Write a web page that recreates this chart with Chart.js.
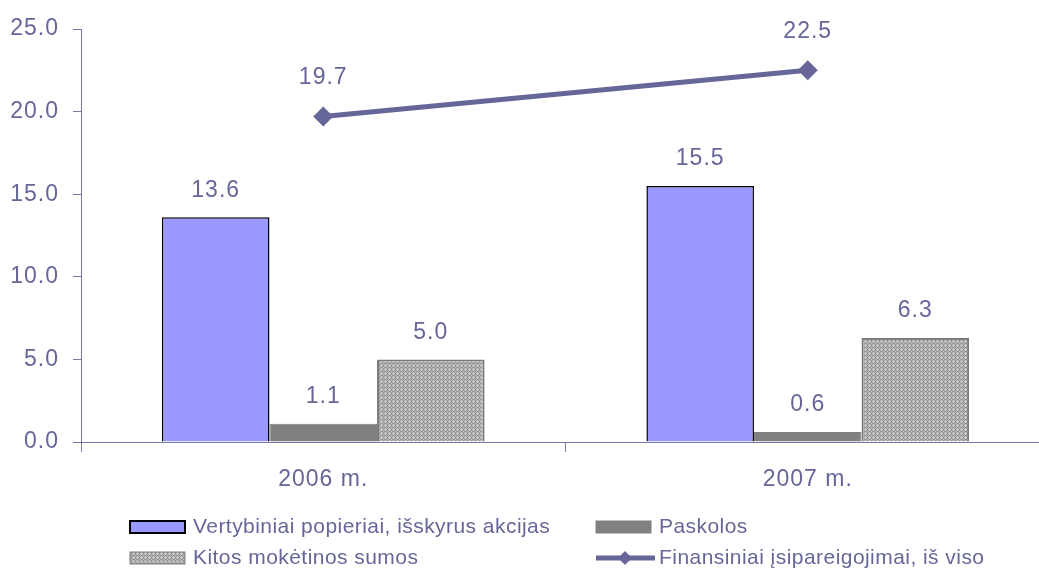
<!DOCTYPE html>
<html><head><meta charset="utf-8">
<script src="https://cdn.jsdelivr.net/npm/chart.js@4/dist/chart.umd.min.js"></script>
<style>
html,body{margin:0;padding:0;background:#fff;overflow:hidden;}
#wrap{width:1060px;height:570px;position:relative;}
</style></head>
<body>
<div id="wrap"><canvas id="c" width="1060" height="570"></canvas></div>
<script>
const categories = ['2006 m.', '2007 m.'];
const securities = [13.6, 15.5];
const loans = [1.1, 0.6];
const otherPayables = [5.0, 6.3];
const totalLiabilities = [19.7, 22.5];
const yTicks = [0, 5, 10, 15, 20, 25];
const seriesNames = ['Vertybiniai popieriai, išskyrus akcijas', 'Paskolos', 'Kitos mokėtinos sumos', 'Finansiniai įsipareigojimai, iš viso'];

const TXT = '#666699';
const AX = '#7777a6';
const FONT = '"Liberation Sans", Arial, sans-serif';

function makePattern(){
  const p = document.createElement('canvas');
  p.width = 4; p.height = 4;
  const g = p.getContext('2d');
  g.fillStyle = '#a2a2a2'; g.fillRect(0,0,4,4);
  g.fillStyle = '#c9c9c9';
  g.fillRect(1,0,1,1); g.fillRect(0,1,3,1); g.fillRect(1,2,1,1);
  g.fillStyle = '#b6b6b6';
  g.fillRect(3,3,1,1);
  g.fillStyle = '#8f8f8f';
  g.fillRect(3,1,1,1); g.fillRect(1,3,1,1);
  return g.createPattern(p, 'repeat');
}
const ctx0 = document.getElementById('c').getContext('2d');
const pattern = makePattern();

const spacingPlugin = {
  id: 'spacing',
  beforeDraw(chart){ chart.ctx.letterSpacing = '1px'; }
};

const labelPlugin = {
  id: 'valLabels',
  afterDatasetsDraw(chart){
    const ctx = chart.ctx;
    ctx.save();
    ctx.fillStyle = TXT;
    ctx.font = '23px ' + FONT;
    ctx.textAlign = 'center';
    ctx.textBaseline = 'middle';
    chart.data.datasets.forEach((ds, i) => {
      const meta = chart.getDatasetMeta(i);
      meta.data.forEach((el, j) => {
        const off = ds.type === 'line' ? 39 : 27;
        ctx.fillText(ds.data[j].toFixed(1), el.x, el.y - off);
      });
    });
    ctx.restore();
  }
};

const legendPlugin = {
  id: 'gridLegend',
  afterDraw(chart){
    const ctx = chart.ctx;
    const ds = chart.data.datasets;
    const pos = [[130, 527], [596, 527], [130, 558], [596, 558]];
    ctx.save();
    ctx.font = '21px ' + FONT;
    ctx.letterSpacing = '0.45px';
    ctx.textBaseline = 'middle';
    ctx.textAlign = 'left';
    ds.forEach((d, i) => {
      const [x, y] = pos[i];
      if (d.type === 'line') {
        ctx.strokeStyle = d.borderColor; ctx.lineWidth = 5;
        ctx.beginPath(); ctx.moveTo(x, y); ctx.lineTo(x + 59, y); ctx.stroke();
        ctx.fillStyle = d.borderColor;
        ctx.beginPath(); ctx.moveTo(x + 29, y - 7); ctx.lineTo(x + 36, y); ctx.lineTo(x + 29, y + 7); ctx.lineTo(x + 22, y); ctx.closePath(); ctx.fill();
      } else {
        ctx.fillStyle = d.backgroundColor;
        ctx.fillRect(x, y - 6, 55, 12);
        ctx.strokeStyle = i === 0 ? '#000' : d.borderColor;
        ctx.lineWidth = i === 0 ? 2 : 1;
        ctx.strokeRect(x, y - 6, 55, 12);
      }
      ctx.fillStyle = TXT;
      ctx.fillText(d.label, x + 63, y);
    });
    ctx.restore();
  }
};

new Chart(ctx0, {
  data: {
    labels: categories,
    datasets: [
      { type: 'bar', label: seriesNames[0], data: securities, backgroundColor: '#9999ff', borderColor: '#000000', borderWidth: 1.5, order: 2 },
      { type: 'bar', label: seriesNames[1], data: loans, backgroundColor: '#808080', borderColor: '#808080', borderWidth: 1, order: 2 },
      { type: 'bar', label: seriesNames[2], data: otherPayables, backgroundColor: pattern, borderColor: '#7a7a7a', borderWidth: 2, order: 2 },
      { type: 'line', label: seriesNames[3], data: totalLiabilities, borderColor: '#666699', backgroundColor: '#666699', borderWidth: 5, pointStyle: 'rectRot', pointRadius: 10, pointHoverRadius: 10, pointBackgroundColor: '#666699', pointBorderWidth: 0, order: 1 }
    ]
  },
  options: {
    responsive: false,
    animation: false,
    events: [],
    layout: { padding: { top: 29, right: 9, bottom: 68, left: 0 } },
    datasets: { bar: { categoryPercentage: 0.666, barPercentage: 1.0 } },
    plugins: { legend: { display: false }, tooltip: { enabled: false } },
    scales: {
      x: {
        offset: true,
        grid: { offset: true, drawOnChartArea: false, drawTicks: true, tickLength: 10, color: AX },
        border: { color: AX, width: 1 },
        ticks: { color: TXT, font: { family: FONT, size: 23 }, padding: 14 },
        afterFit(s){ s.height = 60; }
      },
      y: {
        min: 0, max: 25,
        afterBuildTicks(s){ s.ticks = yTicks.map(v => ({ value: v })); },
        grid: { drawOnChartArea: false, drawTicks: true, tickLength: 8, color: AX },
        border: { color: AX, width: 1 },
        ticks: { color: TXT, font: { family: FONT, size: 23 }, padding: 14, callback: v => Number(v).toFixed(1) },
        afterFit(s){ s.width = 81; }
      }
    }
  },
  plugins: [spacingPlugin, labelPlugin, legendPlugin]
});
</script>
</body></html>
